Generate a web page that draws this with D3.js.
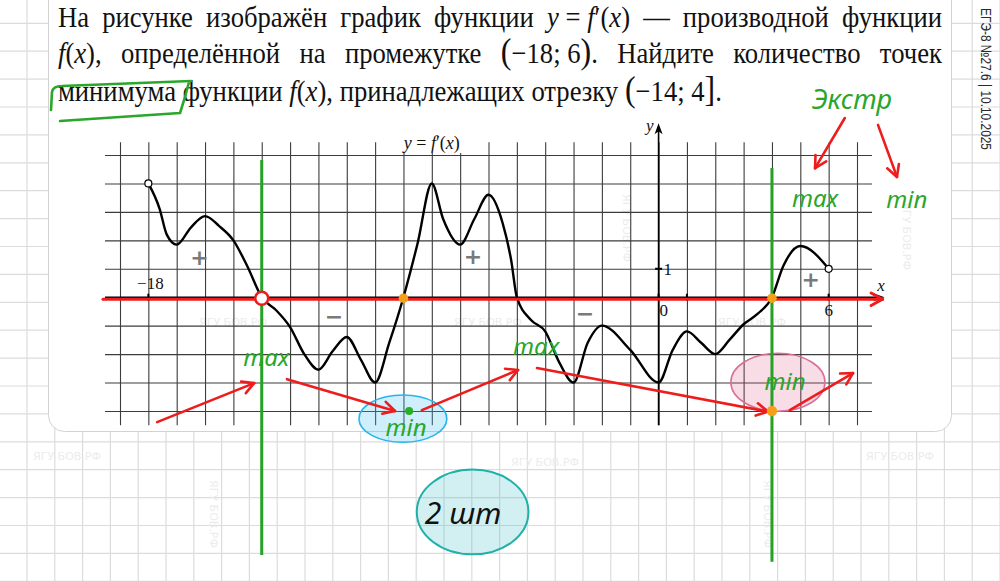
<!DOCTYPE html>
<meta charset="utf-8">
<title>y = f'(x)</title>
<style>
  html, body { margin: 0; padding: 0; background: #fff; }
  svg { display: block; }
</style>
<body>
<script src="https://d3js.org/d3.v7.min.js"></script>
<script>

// ---- data ----
// the curve y = f'(x)
var curveX = [-18, -17.6, -17.35, -17, -16.5, -16, -15.5, -15, -14.5, -14, -13.5, -13, -12.5, -12, -11.5, -11, -10.5, -10, -9.5, -9,
              -8.5, -8, -7.6, -7, -6.5, -6, -5.5, -5.2, -5, -4.5, -4, -3.5, -3, -2.5, -2, -1, 0, 0.5, 1, 1.5, 2, 2.5, 3, 3.5, 4, 4.4, 5, 6];
var curveY = [4, 3.1, 2.2, 1.85, 2.45, 2.85, 2.5, 2.0, 1.07, 0, -0.45, -1.05, -2.0, -2.55, -1.9, -1.4, -2.2, -3, -1.6, 0,
              1.9, 4, 2.75, 1.85, 2.75, 3.6, 2.6, 1.3, 0, -0.8, -1.2, -2.3, -3, -1.6, -1, -1.85, -3, -1.85, -1.2, -1.6, -2, -1.5, -0.95, -0.58, 0, 1.1, 1.8, 1];

// axis labels
var xTickVals = [-18, 0, 6];
var xTickText = ["−18", "0", "6"];
var yTickVals = [1];

// sign of f' on the intervals
var signText = ["+", "−", "+", "−", "+"];
var signX = [-16.2, -11.45, -6.55, -2.6, 5.37];
var signY = [1.41, -0.66, 1.45, -0.56, 0.64];

// marked points
var zeroMaxX = [-14];          // red hollow point
var zeroOrangeX = [-9, 4];     // orange points on the axis
var lowOrange = [[4, -4]];
var lowGreen = [[-8.8, -4]];
var greenLineX = [-14, 4];

// handwritten notes
var noteText = ["max", "min", "max", "min", "max", "min", "Экстр"];
var noteX = [-13.84, -8.91, -4.32, 4.46, 5.52, 8.76, 6.82];
var noteY = [-2.15, -4.6, -1.75, -2.98, 3.45, 3.42, 6.93];

// red arrows [x1, y1, x2, y2]
var arrows = [
  [-17.69, -4.39, -14.27, -3.02],
  [-13.11, -2.88, -9.3, -4.0],
  [-8.35, -3.97, -4.96, -2.56],
  [-4.29, -2.49, 3.86, -4.02],
  [4.63, -3.97, 6.86, -2.67],
  [6.57, 6.3, 5.52, 4.54],
  [7.74, 6.06, 8.41, 4.23]
];

// ellipses [cx, cy, rx, ry]
var ovalBlue = [-9.02, -4.27, 1.55, 0.83];
var ovalPink = [4.21, -2.99, 1.66, 1.02];
var ovalTeal = [-6.56, -7.55, 1.97, 1.49];

// question text
var line1 = "На|рисунке|изображён|график|функции|*y* = *f*′(*x*)|—|производной|функции".split("|");
var line2 = "*f*(*x*),|определённой|на|промежутке|#(#−18; 6#)#.|Найдите|количество|точек".split("|");
var line3 = "минимума|функции|*f*(*x*),|принадлежащих|отрезку|#(#−14; 4#]#.".split("|");

// ---- drawing ----
var serif = "'Liberation Serif', 'Times New Roman', serif";
var hand = "'Noto Sans', 'DejaVu Sans', sans-serif";
var red = "#ee1c1c", green = "#25a125", orange = "#f5a01a";

var svg = d3.select("body").append("svg")
    .attr("width", 1000)
    .attr("height", 581);

// notebook grid behind everything
var bg = svg.append("g").attr("stroke", "#dcdcdc").attr("stroke-width", 1.2);
d3.range(1, 37).forEach(function(k) {
  var px = 27.8 * k - 0.8;
  bg.append("line").attr("x1", px).attr("x2", px).attr("y1", 0).attr("y2", 581);
});
d3.range(1, 22).forEach(function(k) {
  var py = 27.9 * k - 4.6;
  bg.append("line").attr("x1", 0).attr("x2", 1000).attr("y1", py).attr("y2", py);
});

// white card
svg.append("rect")
    .attr("x", 48.5).attr("y", -40)
    .attr("width", 903).attr("height", 471.5)
    .attr("rx", 16)
    .attr("fill", "#fff")
    .attr("stroke", "#d2d2d2");

// faint watermarks
var wm = svg.append("g").attr("font-family", "'DejaVu Sans', sans-serif")
    .attr("font-size", 11).attr("fill", "#ececec").attr("text-anchor", "middle");
[[233, 326], [488, 326], [752, 326], [67, 460], [545, 466], [900, 460]].forEach(function(p) {
  wm.append("text").attr("x", p[0]).attr("y", p[1]).text("ЯГУ БОВ.РФ");
});
[[210, 514], [764, 514], [623, 228], [903, 236]].forEach(function(p) {
  wm.append("text").attr("transform", "translate(" + p[0] + "," + p[1] + ") rotate(90)").text("ЯГУ БОВ.РФ");
});

// side label
svg.append("text")
    .attr("transform", "translate(981,8) rotate(90)")
    .attr("font-family", "'Liberation Sans', Arial, sans-serif")
    .attr("font-size", 15)
    .attr("fill", "#2a2a2a")
    .attr("textLength", 142)
    .attr("lengthAdjust", "spacingAndGlyphs")
    .text("ЕГЭ-8 №27.6 | 10.10.2025");

// question text, justified like the original
var FS = 30;
function parse(word) {
  return word.split(/(\*[^*]+\*|#[^#]+#)/).filter(function(s) { return s.length; }).map(function(s) {
    if (s[0] === "*") return {t: s.slice(1, -1), it: true};
    if (s[0] === "#") return {t: s.slice(1, -1), big: true};
    return {t: s};
  });
}
var textG = svg.append("g");
var lines = [
  {words: line1, base: 27, justify: true},
  {words: line2, base: 63, justify: true},
  {words: line3, base: 101, justify: false}
];
lines.forEach(function(L) {
  L.nodes = L.words.map(function(w) {
    var g = textG.append("g");
    var t = g.append("text").attr("font-family", serif).attr("font-size", FS).attr("fill", "#111");
    parse(w).forEach(function(p) {
      var ts = t.append("tspan").text(p.t);
      if (p.it) ts.attr("font-style", "italic");
      if (p.big) ts.attr("font-size", FS * 1.2);
    });
    return {g: g, w: t.node().getComputedTextLength()};
  });
});
var space = FS * 0.25;
var nat3 = d3.sum(lines[2].nodes, function(d) { return d.w; }) + space * (lines[2].nodes.length - 1);
var sx = (722 - 58) / nat3;
lines.forEach(function(L) {
  var sum = d3.sum(L.nodes, function(d) { return d.w; }) * sx;
  var gap = L.justify ? (942 - 58 - sum) / (L.nodes.length - 1) : space * sx;
  var cx = 58;
  L.nodes.forEach(function(n) {
    n.g.attr("transform", "translate(" + cx + "," + L.base + ") scale(" + sx + ",1)");
    n.x = cx; n.ww = n.w * sx;
    cx += n.ww + gap;
  });
});

// scales
var x = d3.scaleLinear().domain([-19, 7]).range([120, 857]);
var y = d3.scaleLinear().domain([-4, 5]).range([411, 155]);

// chart grid
var gx = svg.append("g")
    .attr("transform", "translate(0," + y(-4.5) + ")")
    .call(d3.axisTop(x).tickValues(d3.range(-19, 8)).tickSize(y(-4.5) - y(5.45)).tickFormat(""));
var gy = svg.append("g")
    .attr("transform", "translate(" + x(-19.53) + ",0)")
    .call(d3.axisRight(y).tickValues(d3.range(-4, 6)).tickSize(x(7.53) - x(-19.53)).tickFormat(""));
[gx, gy].forEach(function(g) {
  g.select(".domain").remove();
  g.selectAll("line").attr("stroke", "#3c3c3c").attr("stroke-width", 1.1);
});

// ovals (translucent, grid shows through)
function oval(o, fill, op, stroke, sw) {
  svg.append("ellipse")
      .attr("cx", x(o[0])).attr("cy", y(o[1]))
      .attr("rx", x(o[2]) - x(0)).attr("ry", y(0) - y(o[3]))
      .attr("fill", fill).attr("fill-opacity", op)
      .attr("stroke", stroke).attr("stroke-width", sw);
}
oval(ovalBlue, "rgb(60,190,240)", 0.25, "#2bb4ea", 1.6);
oval(ovalPink, "rgb(220,80,130)", 0.2, "#d8709a", 1.6);
oval(ovalTeal, "rgb(30,180,185)", 0.2, "#1fb0a8", 2);

// axes
svg.append("line")
    .attr("x1", x(-19.53)).attr("x2", x(7.85))
    .attr("y1", y(0)).attr("y2", y(0))
    .attr("stroke", "#000").attr("stroke-width", 1.6);
svg.append("line")
    .attr("x1", x(0)).attr("x2", x(0))
    .attr("y1", y(-4.5)).attr("y2", y(5.9))
    .attr("stroke", "#000").attr("stroke-width", 1.6);
svg.append("path")
    .attr("d", "M" + x(0) + "," + (y(6.05) - 2) + "l-4,11 l4,-3 l4,3z")
    .attr("fill", "#000");
svg.append("path")
    .attr("d", "M" + (x(7.9) + 2) + "," + y(0) + "l-11,-4 l3,4 l-3,4z")
    .attr("fill", "#000");

// small ticks
xTickVals.concat([1]).forEach(function(v) {
  svg.append("line").attr("x1", x(v)).attr("x2", x(v))
      .attr("y1", y(0) - 3.5).attr("y2", y(0) + 3.5)
      .attr("stroke", "#000").attr("stroke-width", 2);
});
yTickVals.forEach(function(v) {
  svg.append("line").attr("x1", x(0) - 3.5).attr("x2", x(0) + 3.5)
      .attr("y1", y(v)).attr("y2", y(v))
      .attr("stroke", "#000").attr("stroke-width", 2);
});

// the curve
var pts = curveX.map(function(v, i) { return [v, curveY[i]]; });
svg.append("path")
    .datum(pts)
    .attr("fill", "none")
    .attr("stroke", "#000")
    .attr("stroke-width", 2.4)
    .attr("stroke-linejoin", "round")
    .attr("d", d3.line()
        .x(function(d) { return x(d[0]); })
        .y(function(d) { return y(d[1]); })
        .curve(d3.curveMonotoneX));

// hollow end points
[pts[0], pts[pts.length - 1]].forEach(function(d) {
  svg.append("circle").attr("cx", x(d[0])).attr("cy", y(d[1])).attr("r", 3.5)
      .attr("fill", "#fff").attr("stroke", "#000").attr("stroke-width", 1.2);
});

// caption
var cap = svg.append("g").attr("font-family", serif).attr("font-size", 18).attr("fill", "#111");
cap.append("rect").attr("x", x(-8) - 36).attr("y", y(5) - 20).attr("width", 72).attr("height", 18).attr("fill", "#fff");
var capT = cap.append("text").attr("x", x(-8)).attr("y", y(5) - 6).attr("text-anchor", "middle");
capT.append("tspan").attr("font-style", "italic").text("y");
capT.append("tspan").text(" = ");
capT.append("tspan").attr("font-style", "italic").text("f");
capT.append("tspan").text("′(");
capT.append("tspan").attr("font-style", "italic").text("x");
capT.append("tspan").text(")");

// tick labels
var lab = svg.append("g").attr("font-family", serif).attr("font-size", 17).attr("fill", "#111");
xTickVals.forEach(function(v, i) {
  var t = lab.append("text").text(xTickText[i]);
  if (v < 0) t.attr("x", x(v) + 2).attr("y", y(0) - 8).attr("text-anchor", "middle");
  else if (v === 0) t.attr("x", x(v) + 1).attr("y", y(0) + 19);
  else t.attr("x", x(v)).attr("y", y(0) + 19).attr("text-anchor", "middle");
});
yTickVals.forEach(function(v) {
  lab.append("text").attr("x", x(0) + 5).attr("y", y(v) + 6).text(v);
});
lab.append("text").attr("x", x(0) - 5).attr("y", y(6.05) + 6).attr("text-anchor", "end")
    .attr("font-style", "italic").text("y");
lab.append("text").attr("x", x(7.85)).attr("y", y(0) - 6).attr("text-anchor", "middle")
    .attr("font-style", "italic").text("x");

// signs
signText.forEach(function(s, i) {
  svg.append("text").attr("x", x(signX[i])).attr("y", y(signY[i])).attr("dy", "0.36em")
      .attr("text-anchor", "middle")
      .attr("font-family", "'DejaVu Sans', sans-serif").attr("font-weight", "bold")
      .attr("font-size", 22).attr("fill", "#7a7a7a").text(s);
});

// arrows
function arrow(a, color, w) {
  var x1 = x(a[0]), y1 = y(a[1]), x2 = x(a[2]), y2 = y(a[3]);
  var g = svg.append("g").attr("stroke", color).attr("stroke-width", w || 2.6).attr("stroke-linecap", "round");
  g.append("line").attr("x1", x1).attr("y1", y1).attr("x2", x2).attr("y2", y2);
  var ang = Math.atan2(y2 - y1, x2 - x1);
  [-1, 1].forEach(function(s) {
    var b = ang + Math.PI + s * 0.5;
    g.append("line").attr("x1", x2).attr("y1", y2)
        .attr("x2", x2 + 13 * Math.cos(b)).attr("y2", y2 + 13 * Math.sin(b));
  });
}

// red line over the x axis
arrow([-19.6, -0.07, 7.9, -0.07], red, 3);

arrows.forEach(function(a) { arrow(a, red); });

// green verticals
greenLineX.forEach(function(v, i) {
  svg.append("line").attr("x1", x(v)).attr("x2", x(v))
      .attr("y1", y(i ? 4.54 : 4.82)).attr("y2", y(i ? -9.3 : -9.06))
      .attr("stroke", green).attr("stroke-width", 3);
});

// points
zeroMaxX.forEach(function(v) {
  svg.append("circle").attr("cx", x(v)).attr("cy", y(0) + 1).attr("r", 6.5)
      .attr("fill", "#fff").attr("stroke", red).attr("stroke-width", 2.6);
});
zeroOrangeX.forEach(function(v) {
  svg.append("circle").attr("cx", x(v)).attr("cy", y(0) + 1).attr("r", 4.8).attr("fill", orange);
});
lowOrange.forEach(function(d) {
  svg.append("circle").attr("cx", x(d[0])).attr("cy", y(d[1])).attr("r", 5.2).attr("fill", orange);
});
lowGreen.forEach(function(d) {
  svg.append("circle").attr("cx", x(d[0])).attr("cy", y(d[1])).attr("r", 4).attr("fill", "#27b027");
});

// handwritten notes
noteText.forEach(function(s, i) {
  svg.append("text").attr("x", x(noteX[i])).attr("y", y(noteY[i])).attr("dy", "0.33em")
      .attr("text-anchor", "middle")
      .attr("font-family", hand).attr("font-style", "italic")
      .attr("font-size", s.length > 3 ? 27 : 24)
      .attr("fill", "#2aa62a").text(s);
});
svg.append("text").attr("x", x(-6.9)).attr("y", y(-7.6)).attr("dy", "0.35em")
    .attr("text-anchor", "middle")
    .attr("font-family", hand).attr("font-style", "italic").attr("font-size", 30)
    .attr("fill", "#111").text("2 шт");

// green box round the word "минимума"
var wbox = lines[2].nodes[0];
var L0 = wbox.x - 6, R0 = wbox.x + wbox.ww + 13, T0 = 101 - 15, B0 = 101 + 19;
svg.append("path")
    .attr("d", "M" + (L0 - 1) + "," + (B0 - 10) + " L" + L0 + "," + (T0 + 6) +
               " Q" + (L0 + 1) + "," + T0 + " " + (L0 + 10) + "," + T0 +
               " L" + (R0 + 2) + "," + (T0 - 5) +
               " M" + R0 + "," + (T0 - 4) + " Q" + (R0 - 4) + "," + (T0 + 12) + " " + (R0 - 9) + "," + (B0 - 7) +
               " L" + (L0 + 8) + "," + (B0 + 1))
    .attr("fill", "none").attr("stroke", "#2aa62a").attr("stroke-width", 2.6)
    .attr("stroke-linecap", "round").attr("stroke-linejoin", "round");

</script>
</body>
